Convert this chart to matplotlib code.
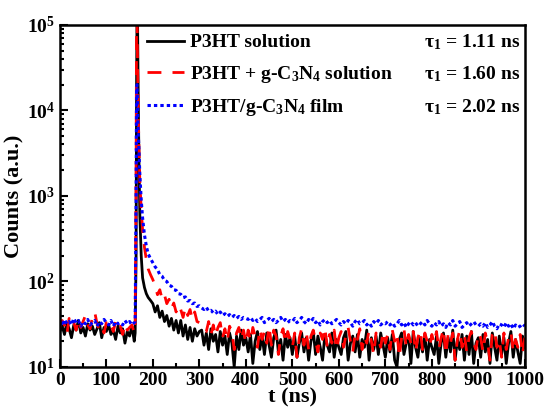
import numpy as np
import matplotlib
matplotlib.use('Agg')
import matplotlib.pyplot as plt

plt.rcParams['font.family'] = ['Liberation Serif', 'DejaVu Serif']
plt.rcParams['font.weight'] = 'bold'
plt.rcParams['mathtext.fontset'] = 'custom'
plt.rcParams['mathtext.rm'] = 'Liberation Serif:bold'
plt.rcParams['mathtext.bf'] = 'Liberation Serif:bold'
plt.rcParams['mathtext.it'] = 'Liberation Serif:bold'

# 1. data
t_base = np.arange(0, 161, 5)
t_peak = [162, 164, 165, 166, 167, 168, 170, 172, 175, 178, 182, 186, 190, 195]
t_tail = np.arange(200, 1001, 5)

black_base = [26, 30, 24, 33, 28, 22, 31, 27, 35, 25, 29, 23, 32, 27, 30, 24, 28, 33, 22, 29, 26,
              31, 24, 27, 21, 30, 25, 28, 19, 26, 23, 30, 20]
red_base = [29, 35, 31, 24, 37, 30, 33, 27, 36, 29, 34, 40, 31, 28, 38, 44, 32, 27, 30, 25, 33,
            29, 31, 26, 34, 28, 30, 24, 32, 27, 29, 31, 25]
blue_base = [33, 30, 36, 32, 34, 31, 37, 33, 35, 30, 34, 32, 36, 31, 33, 35, 30, 34, 32, 36, 33,
             31, 35, 30, 34, 32, 33, 31, 35, 32, 34, 31, 33]

black_peak = [25, 200, 20000, 150000, 150000, 30000, 3000, 600, 200, 110, 85, 72, 65, 60]
red_peak = [30, 2000, 150000, 150000, 40000, 15000, 4000, 1500, 700, 400, 250, 180, 140, 120]
blue_peak = [34, 1000, 18000, 20000, 12000, 7000, 3500, 1800, 900, 550, 350, 260, 210, 185]

black_tail = [55, 44, 52, 38, 45, 34, 40, 30, 37, 27, 35, 25, 35, 23, 31, 21, 29, 20, 28, 23, 26,
              27, 18, 25, 16, 28, 20, 24, 15, 26, 18, 23, 14, 25, 19, 10, 23, 16, 27, 18, 22,
              15, 24, 11, 20, 26, 16, 23, 14, 25, 18, 13, 22, 27, 15, 21, 12, 24, 17, 22, 14,
              23, 13, 19, 25, 15, 22, 12, 20, 26, 14, 23, 17, 12, 24, 18, 15, 25, 13, 21, 17,
              14, 22, 26, 12, 19, 23, 15, 24, 13, 21, 17, 27, 12, 22, 16, 23, 14, 25, 18, 13,
              22, 15, 24, 12, 10, 21, 25, 14, 19, 23, 11, 26, 17, 13, 22, 15, 24, 12, 21, 17,
              14, 23, 11, 19, 25, 13, 22, 15, 27, 12, 21, 16, 24, 12, 23, 14, 26, 11, 19, 22,
              13, 24, 15, 21, 11, 25, 17, 12, 23, 14, 22, 11, 19, 26, 13, 21, 15, 11, 23, 17]
red_tail = [105, 88, 70, 80, 62, 70, 55, 62, 48, 56, 44, 53, 47, 38, 50, 40, 47, 36, 44, 34, 33,
            31, 28, 26, 34, 24, 31, 23, 29, 33, 22, 28, 20, 30, 26, 16, 25, 29, 21, 27, 19,
            27, 20, 29, 23, 17, 28, 21, 26, 19, 30, 18, 27, 23, 14, 23, 28, 19, 26, 21, 17,
            25, 13, 22, 28, 18, 26, 16, 23, 27, 20, 15, 25, 21, 29, 17, 24, 19, 27, 16, 22,
            26, 17, 23, 29, 20, 15, 25, 21, 28, 16, 23, 19, 27, 20, 14, 25, 21, 17, 26, 19,
            24, 16, 27, 20, 25, 13, 22, 28, 17, 24, 19, 26, 15, 22, 27, 16, 25, 20, 17, 24,
            19, 26, 16, 22, 28, 14, 24, 19, 25, 12, 21, 27, 17, 24, 15, 22, 26, 19, 16, 25,
            22, 15, 25, 19, 12, 24, 27, 17, 21, 13, 25, 16, 22, 26, 15, 21, 17, 24, 14, 22]
blue_tail = [165, 148, 138, 120, 115, 103, 100, 90, 88, 80, 79, 72, 71, 65, 66, 59, 60, 55, 56, 51, 52,
             49, 47, 50, 45, 46, 43, 45, 41, 44, 40, 42, 39, 41, 38, 40, 37, 39, 36, 38, 37,
             36, 38, 35, 37, 34, 36, 38, 33, 35, 37, 34, 36, 33, 35, 38, 34, 36, 33, 35, 34,
             37, 33, 35, 38, 34, 32, 36, 34, 37, 33, 35, 31, 34, 36, 33, 35, 32, 34, 36, 33,
             31, 34, 32, 35, 33, 30, 34, 36, 32, 33, 35, 31, 33, 30, 34, 32, 35, 31, 33, 32,
             34, 31, 33, 30, 32, 35, 31, 33, 29, 32, 34, 31, 33, 30, 32, 34, 31, 35, 32, 30,
             33, 31, 34, 30, 32, 29, 33, 31, 35, 30, 32, 34, 29, 31, 33, 30, 32, 34, 31, 30,
             32, 30, 33, 29, 31, 34, 30, 28, 32, 31, 29, 33, 30, 32, 28, 31, 29, 30, 32, 30]

labels = ['P3HT solution', 'P3HT + g-C$_3$N$_4$ solution', 'P3HT/g-C$_3$N$_4$ film']
taus = ['1.11', '1.60', '2.02']

t_all = np.concatenate([t_base, t_peak, t_tail])
black = black_base + black_peak + black_tail
red = red_base + red_peak + red_tail
blue = blue_base + blue_peak + blue_tail

# 2. plot
fig = plt.figure(figsize=(5.49, 4.08), dpi=100)
ax = fig.add_axes([0.109, 0.1005, 0.847, 0.8385])

ax.plot(t_all, black, c='black', lw=2.0, label=labels[0])
ax.plot(t_all, red, c='red', lw=2.0, dashes=(5, 4), label=labels[1])
ax.plot(t_all, blue, c='blue', lw=2.2, dashes=(1.1, 1.0), label=labels[2])

ax.set_yscale('log')
ax.set_xlim(0, 1000)
ax.set_ylim(10, 1e5)
ax.set_xticks(np.arange(0, 1001, 100))
ax.set_xticks(np.arange(50, 1000, 100), minor=True)
ax.tick_params(which='both', direction='in', top=False, right=False, labelsize=14, width=1.5)
ax.tick_params(which='major', length=6)
ax.tick_params(which='minor', length=3)
for s in ax.spines.values():
    s.set_linewidth(1.8)
for lab in ax.get_xticklabels() + ax.get_yticklabels():
    lab.set_fontweight('bold')

ax.set_xlabel('t (ns)', fontsize=16, fontweight='bold', labelpad=-1)
ax.set_ylabel('Counts (a.u.)', fontsize=16, fontweight='bold', labelpad=2)

leg = ax.legend(loc='upper left', bbox_to_anchor=(0.15, 1.025), frameon=False, fontsize=14,
                handlelength=1.9, handletextpad=0.3, labelspacing=0.62)
for txt in leg.get_texts():
    txt.set_fontweight('bold')

ys = [0.95, 0.855, 0.76]
for y, tau in zip(ys, taus):
    ax.text(0.99, y, 'τ$_1$ = ' + tau + ' ns', transform=ax.transAxes, ha='right', va='center',
            fontsize=14, fontweight='bold')

plt.savefig('out.png', dpi=100)
